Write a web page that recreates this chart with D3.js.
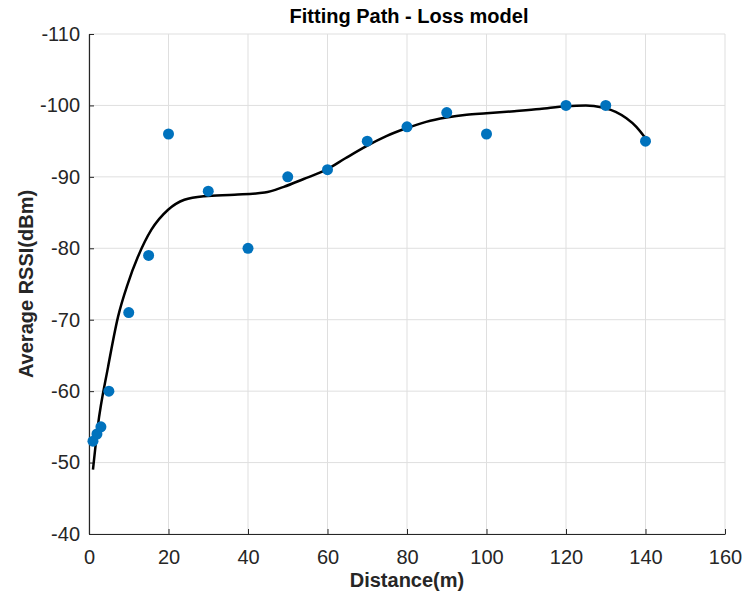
<!DOCTYPE html>
<html>
<head>
<meta charset="utf-8">
<script src="https://cdn.jsdelivr.net/npm/d3@7"></script>
<style>
  body { margin: 0; background: #fff; }
  svg { font-family: "Liberation Sans", Arial, sans-serif; }
</style>
</head>
<body>
<div id="chart"></div>
<script>
// measured RSSI samples
const distances = [1, 2, 3, 5, 10, 15, 20, 30, 40, 50, 60, 70, 80, 90, 100, 120, 130, 140];
const rssi = [-53, -54, -55, -60, -71, -79, -96, -88, -80, -90, -91, -95, -97, -99, -96, -100, -100, -95];

// fitted curve
const fitX = [1, 2.2, 4.8, 7.3, 9.8, 12.3, 15.7, 19.9, 24, 29, 36.6, 44.2, 49, 54, 59.7, 64.5, 69.8, 74.8, 79.8, 84.8, 89.9, 95, 100, 107, 113.4, 120, 125, 129.2, 132.5, 135.2, 137.7, 140];
const fitY = [-49, -55, -63.4, -70.4, -75.1, -78.8, -82.6, -85.4, -86.8, -87.3, -87.5, -87.8, -88.6, -89.7, -91, -92.6, -94.3, -95.7, -96.8, -97.7, -98.3, -98.7, -98.9, -99.2, -99.5, -99.9, -100, -99.7, -99.1, -98.2, -97, -95.4];

const xTicks = [0, 20, 40, 60, 80, 100, 120, 140, 160];
const yTicks = [-110, -100, -90, -80, -70, -60, -50, -40];

const width = 745, height = 604;
const margin = { top: 34, right: 20, bottom: 70, left: 89 };
const innerW = 725 - margin.left, innerH = 534 - margin.top;

const svg = d3.select("#chart").append("svg")
  .attr("width", width)
  .attr("height", height);

const g = svg.append("g").attr("transform", `translate(${margin.left},${margin.top})`);

const x = d3.scaleLinear().domain([0, 160]).range([0, innerW]);
// axis runs from -40 at the bottom to -110 at the top
const y = d3.scaleLinear().domain([-40, -110]).range([innerH, 0]);

// grid
g.append("g").selectAll("line").data(xTicks).join("line")
  .attr("x1", d => x(d)).attr("x2", d => x(d))
  .attr("y1", 0).attr("y2", innerH)
  .attr("stroke", "#dfdfdf").attr("stroke-width", 1);
g.append("g").selectAll("line").data(yTicks).join("line")
  .attr("x1", 0).attr("x2", innerW)
  .attr("y1", d => y(d)).attr("y2", d => y(d))
  .attr("stroke", "#dfdfdf").attr("stroke-width", 1);

// axes, ticks pointing inward, plain hyphen for negatives
const fmt = d => String(d);
const xAxis = g.append("g")
  .attr("transform", `translate(0,${innerH})`)
  .call(d3.axisBottom(x).tickValues(xTicks).tickFormat(fmt).tickSizeInner(-5).tickSizeOuter(0).tickPadding(16));
const yAxis = g.append("g")
  .call(d3.axisLeft(y).tickValues(yTicks).tickFormat(fmt).tickSizeInner(-5).tickSizeOuter(0).tickPadding(9));

[xAxis, yAxis].forEach(a => {
  a.select(".domain").attr("stroke", "#262626").attr("stroke-width", 1.2);
  a.selectAll(".tick line").attr("stroke", "#262626");
  a.selectAll(".tick text")
    .attr("fill", "#262626")
    .style("font-size", "20px")
    .style("font-family", "'Liberation Sans', Arial, sans-serif");
});

// fitted line
const fit = fitX.map((d, i) => [d, fitY[i]]);
g.append("path")
  .datum(fit)
  .attr("fill", "none")
  .attr("stroke", "#000")
  .attr("stroke-width", 2.5)
  .attr("d", d3.line().x(d => x(d[0])).y(d => y(d[1])).curve(d3.curveMonotoneX));

// data points
g.append("g").selectAll("circle").data(distances).join("circle")
  .attr("cx", d => x(d))
  .attr("cy", (d, i) => y(rssi[i]))
  .attr("r", 5.5)
  .attr("fill", "#0072BD");

// labels
svg.append("text")
  .attr("x", 409).attr("y", 23)
  .attr("text-anchor", "middle")
  .attr("font-weight", "bold").attr("font-size", 20)
  .attr("fill", "#000")
  .text("Fitting Path - Loss model");

svg.append("text")
  .attr("x", margin.left + innerW / 2).attr("y", 587)
  .attr("text-anchor", "middle")
  .attr("font-weight", "bold").attr("font-size", 20)
  .attr("fill", "#262626")
  .text("Distance(m)");

svg.append("text")
  .attr("transform", `translate(33,${margin.top + innerH / 2}) rotate(-90)`)
  .attr("text-anchor", "middle")
  .attr("font-weight", "bold").attr("font-size", 20)
  .attr("fill", "#262626")
  .text("Average RSSI(dBm)");
</script>
</body>
</html>
